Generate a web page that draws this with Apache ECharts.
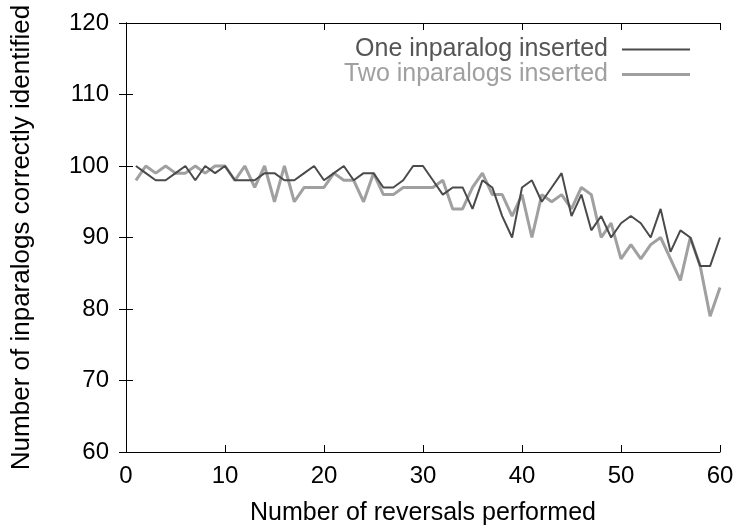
<!DOCTYPE html>
<html>
<head>
<meta charset="utf-8">
<script src="https://cdn.jsdelivr.net/npm/echarts@6/dist/echarts.min.js"></script>
<style>
  html, body {margin: 0; padding: 0; background: #fff;}
  #chart {width: 742px; height: 531px;}
</style>
</head>
<body>
<div id="chart"></div>
<script>
const reversals = [1, 2, 3, 4, 5, 6, 7, 8, 9, 10, 11, 12, 13, 14, 15, 16, 17, 18, 19, 20,
  21, 22, 23, 24, 25, 26, 27, 28, 29, 30, 31, 32, 33, 34, 35, 36, 37, 38, 39, 40,
  41, 42, 43, 44, 45, 46, 47, 48, 49, 50, 51, 52, 53, 54, 55, 56, 57, 58, 59, 60]

const oneInserted = [100, 99, 98, 98, 99, 100, 98, 100, 99, 100,
  98, 98, 98, 99, 99, 98, 98, 99, 100, 98,
  99, 100, 98, 99, 99, 97, 97, 98, 100, 100,
  98, 96, 97, 97, 94, 98, 97, 93, 90, 97,
  98, 95, 97, 99, 93, 96, 91, 93, 90, 92,
  93, 92, 90, 94, 88, 91, 90, 86, 86, 90]

const twoInserted = [98, 100, 99, 100, 99, 99, 100, 99, 100, 100,
  98, 100, 97, 100, 95, 100, 95, 97, 97, 97,
  99, 98, 98, 95, 99, 96, 96, 97, 97, 97,
  97, 98, 94, 94, 97, 99, 96, 96, 93, 96,
  90, 96, 95, 96, 94, 97, 96, 90, 92, 87,
  89, 87, 89, 90, 87, 84, 90, 86, 79, 83]

const xTicks = [0, 10, 20, 30, 40, 50, 60]
const yTicks = [60, 70, 80, 90, 100, 110, 120]

const font = 'Liberation Sans, Arial, sans-serif'
const darkGray = '#4a4a4a'
const lightGray = '#a0a0a0'
const pairs = (ys) => reversals.map((x, i) => [x, ys[i]])

const chart = echarts.init(document.getElementById('chart'))

const box = {
  axisLine: {show: true, lineStyle: {color: '#000', width: 1}},
  axisTick: {show: true, inside: true, length: 7, lineStyle: {color: '#000'}},
  splitLine: {show: false},
}

// one legend per series so each sample line gets its own thickness
const legendFor = (name, color, thick, top) => ({
  orient: 'vertical',
  right: 47,
  top: top,
  align: 'right',
  icon: 'rect',
  itemWidth: 68,
  itemHeight: thick,
  textStyle: {fontSize: 25, fontFamily: font, color: color, padding: [0, 9, 0, 0]},
  data: [{name: name}]
})

chart.setOption({
  animation: false,
  backgroundColor: '#fff',
  textStyle: {fontFamily: font},
  grid: {left: 126, right: 22, top: 23, bottom: 75},
  legend: [
    legendFor('One inparalog inserted', '#555', 2, 32),
    legendFor('Two inparalogs inserted', lightGray, 3, 57)
  ],
  xAxis: [
    {
      type: 'value',
      min: xTicks[0],
      max: xTicks[xTicks.length - 1],
      interval: 10,
      name: 'Number of reversals performed',
      nameLocation: 'middle',
      nameGap: 49,
      nameTextStyle: {fontSize: 25, color: '#000', fontFamily: font},
      axisLabel: {fontSize: 24, color: '#000', margin: 12, fontFamily: font},
      ...box
    },
    {
      type: 'value', position: 'top',
      min: xTicks[0], max: xTicks[xTicks.length - 1], interval: 10,
      axisLabel: {show: false},
      ...box
    }
  ],
  yAxis: [
    {
      type: 'value',
      min: yTicks[0],
      max: yTicks[yTicks.length - 1],
      interval: 10,
      name: 'Number of inparalogs correctly identified',
      nameLocation: 'middle',
      nameGap: 91,
      nameTextStyle: {fontSize: 26, color: '#000', fontFamily: font},
      axisLabel: {fontSize: 24, color: '#000', margin: 17, fontFamily: font},
      ...box
    },
    {
      type: 'value', position: 'right',
      min: yTicks[0], max: yTicks[yTicks.length - 1], interval: 10,
      axisLabel: {show: false},
      ...box
    }
  ],
  series: [
    {
      name: 'One inparalog inserted',
      type: 'line',
      data: pairs(oneInserted),
      color: darkGray,
      lineStyle: {width: 2, color: darkGray},
      z: 3
    },
    {
      name: 'Two inparalogs inserted',
      type: 'line',
      data: pairs(twoInserted),
      color: lightGray,
      lineStyle: {width: 3, color: lightGray},
      z: 2
    }
  ].map((s) => ({
    ...s,
    symbol: 'none',
    showSymbol: false
  }))
})
</script>
</body>
</html>
